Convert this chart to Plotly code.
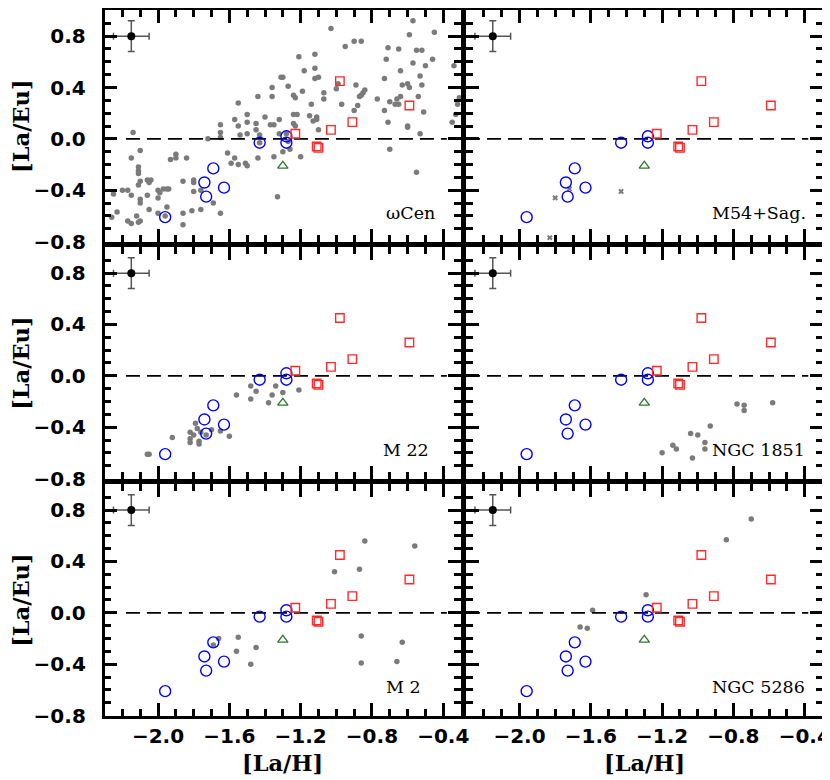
import plotly.graph_objects as go

# comparison stars, drawn in every panel
blue_x = [-1.96, -1.74, -1.73, -1.69, -1.63, -1.43, -1.28, -1.28]
blue_y = [-0.61, -0.34, -0.45, -0.23, -0.38, -0.03, 0.02, -0.03]
red_x = [-1.23, -1.11, -1.10, -1.03, -0.98, -0.91, -0.59]
red_y = [0.04, -0.06, -0.07, 0.07, 0.45, 0.13, 0.26]
green_x = [-1.30]
green_y = [-0.21]

# typical error bar
err_x, err_y = [-2.15], [0.80]
err_dx, err_dy = [0.10], [0.12]

# cluster stars (grey)
omega_x = [-1.31, -1.36, -1.36, -1.44, -1.55, -1.57, -1.50, -1.50, -1.40, -1.45, -1.32, -1.65, -1.55, -1.37, -1.35,
           -1.03, -0.57, -0.45, -0.59, -0.90, -0.86, -0.95, -0.71, -0.65, -0.55, -0.52, -1.12, -1.21, -0.72, -0.57,
           -0.46, -0.50, -0.34, -1.12, -1.18, -0.64, -1.30, -1.10, -1.12, -0.73, -0.53, -0.99, -1.27, -0.89, -0.63,
           -0.60, -0.59, -0.52, -1.19, -1.00, -0.84, -0.85, -0.86, -0.87, -1.24, -1.23, -1.07, -0.54, -0.77, -1.07,
           -0.66, -0.64, -0.70, -0.67, -0.65, -1.14, -0.97, -0.88, -0.32, -0.31, -0.90, -0.73, -0.51, -1.24, -1.22,
           -1.15, -1.11, -0.33, -1.24, -1.13, -1.11, -0.71, -0.60, -0.35,
           -1.10, -1.26, -1.20, -0.70, -0.60, -0.53, -0.55, -1.30, -1.28, -1.32, -1.27, -1.23,
           -2.14, -1.65, -1.50, -1.54, -1.72, -1.65, -1.45, -1.43, -2.10, -2.15, -1.90, -1.90, -1.93, -1.84, -1.61,
           -1.57, -1.59, -1.55, -1.51, -1.50, -1.44, -1.35, -2.11, -2.11, -2.11, -2.04, -2.06, -2.05, -2.10, -2.11,
           -1.86, -1.80, -1.80, -1.80, -2.20, -2.17, -2.25, -2.15, -2.06, -2.10, -2.10, -2.00, -1.99, -1.97, -1.95,
           -1.94, -2.00, -1.76, -1.69, -1.33, -1.95, -2.05, -2.23, -2.26, -2.12, -2.17, -2.15, -2.11, -2.10, -2.00,
           -1.96, -1.86, -1.81, -1.76, -1.65, -1.86, -1.43]
omega_y = [0.48, 0.40, 0.33, 0.33, 0.28, 0.15, 0.19, 0.13, 0.17, 0.12, 0.15, 0.11, 0.10, 0.11, 0.11,
           0.86, 0.92, 0.83, 0.81, 0.76, 0.76, 0.72, 0.71, 0.70, 0.69, 0.69, 0.66, 0.64, 0.62, 0.59,
           0.62, 0.57, 0.57, 0.55, 0.53, 0.53, 0.48, 0.48, 0.47, 0.47, 0.49, 0.43, 0.41, 0.42, 0.42,
           0.43, 0.40, 0.42, 0.37, 0.39, 0.38, 0.36, 0.34, 0.33, 0.34, 0.32, 0.36, 0.33, 0.31, 0.31,
           0.31, 0.33, 0.29, 0.27, 0.27, 0.27, 0.27, 0.26, 0.27, 0.32, 0.22, 0.22, 0.21, 0.19, 0.19,
           0.18, 0.17, 0.19, 0.12, 0.14, 0.15, 0.13, 0.10, 0.13,
           0.07, -0.08, -0.14, -0.08, 0.09, 0.04, -0.26, -0.10, 0.04, 0.04, -0.02, 0.10,
           0.05, 0.05, 0.04, 0.03, 0.00, 0.01, 0.07, 0.03, -0.09, -0.15, -0.12, -0.15, -0.16, -0.15, -0.11,
           -0.15, -0.19, -0.20, -0.19, -0.21, -0.15, -0.14, -0.22, -0.25, -0.27, -0.32, -0.32, -0.34, -0.33, -0.36,
           -0.33, -0.32, -0.34, -0.41, -0.40, -0.40, -0.43, -0.44, -0.44, -0.47, -0.50, -0.40, -0.42, -0.39, -0.39,
           -0.39, -0.46, -0.40, -0.50, -0.45, -0.53, -0.55, -0.57, -0.61, -0.60, -0.64, -0.66, -0.65, -0.64, -0.58,
           -0.60, -0.58, -0.56, -0.55, -0.58, -0.67, -0.03]

m54_x = [-1.80, -1.72, -1.43, -1.83]
m54_y = [-0.46, -0.39, -0.41, -0.77]

m22_x = [-2.06, -2.05, -1.92, -1.82, -1.82, -1.82, -1.79, -1.80, -1.78, -1.77, -1.77, -1.76, -1.73,
         -1.70, -1.65, -1.60, -1.56, -1.48, -1.48, -1.45, -1.38, -1.36, -1.34, -1.30, -1.21]
m22_y = [-0.61, -0.61, -0.48, -0.44, -0.49, -0.52, -0.37, -0.46, -0.41, -0.51, -0.53, -0.44, -0.46,
         -0.42, -0.43, -0.47, -0.15, -0.08, -0.18, -0.12, -0.21, -0.15, -0.08, -0.13, -0.11]

n1851_x = [-1.20, -1.14, -1.12, -1.04, -1.00, -1.03, -0.96, -0.96, -0.93, -0.78, -0.74, -0.74, -0.58]
n1851_y = [-0.60, -0.54, -0.57, -0.45, -0.46, -0.64, -0.52, -0.57, -0.39, -0.22, -0.23, -0.27, -0.21]

m2_x = [-1.66, -1.69, -1.55, -1.56, -1.45, -1.48, -1.01, -0.87, -0.84, -0.86, -0.86, -0.63, -0.66, -0.56]
m2_y = [-0.20, -0.25, -0.19, -0.30, -0.27, -0.40, 0.32, 0.34, 0.56, -0.18, -0.39, -0.23, -0.38, 0.52]

n5286_x = [-1.66, -1.62, -1.59, -1.29, -0.84, -0.70]
n5286_y = [-0.11, -0.12, 0.02, 0.14, 0.57, 0.73]

panels = [
    ("ωCen", omega_x, omega_y, "circle", -0.73),
    ("M54+Sag.", m54_x, m54_y, "x", -0.93),
    ("M 22", m22_x, m22_y, "circle", -0.75),
    ("NGC 1851", n1851_x, n1851_y, "circle", -0.93),
    ("M 2", m2_x, m2_y, "circle", -0.73),
    ("NGC 5286", n5286_x, n5286_y, "circle", -0.93),
]

W, H = 830, 780
col_px = [(97.5, 457.5), (462.5, 822.5)]
row_px = [(1.5, 236.5), (242.5, 477.5), (483.5, 718.5)]

tickfont = dict(family="DejaVu Sans", size=20, color="black", weight="bold")
titlefont = dict(family="DejaVu Serif", size=22.5, color="black", weight="bold")

fig = go.Figure()
layout = {}
for i, (name, gx, gy, sym, lab_x) in enumerate(panels):
    r, c = divmod(i, 2)
    n = "" if i == 0 else str(i + 1)
    k = str(i + 7)
    xr, yr = "x" + n, "y" + n
    xdom = [col_px[c][0] / W, col_px[c][1] / W]
    ydom = [1 - row_px[r][1] / H, 1 - row_px[r][0] / H]

    fig.add_trace(go.Scatter(x=gx, y=gy, mode="markers", xaxis=xr, yaxis=yr,
                             marker=dict(symbol=sym, size=5.5 if sym == "circle" else 5,
                                         color="#7b7b7b", line=dict(width=0))))
    x0 = -2.18 if c == 0 else -2.3
    fig.add_trace(go.Scatter(x=[x0, -0.38], y=[0, 0], mode="lines", xaxis=xr, yaxis=yr,
                             line=dict(color="black", width=1.8, dash="14px,7px")))
    fig.add_trace(go.Scatter(x=blue_x, y=blue_y, mode="markers", xaxis=xr, yaxis=yr,
                             marker=dict(symbol="circle-open", size=11, color="#0000ff",
                                         line=dict(width=1.4))))
    fig.add_trace(go.Scatter(x=red_x, y=red_y, mode="markers", xaxis=xr, yaxis=yr,
                             marker=dict(symbol="square-open", size=8.5, color="#ff2a2a",
                                         line=dict(width=1.4))))
    fig.add_trace(go.Scatter(x=green_x, y=green_y, mode="markers", xaxis=xr, yaxis=yr,
                             marker=dict(symbol="triangle-up-open", size=9, color="#2b7a2b",
                                         line=dict(width=1.3))))
    fig.add_trace(go.Scatter(x=err_x, y=err_y, mode="markers", xaxis=xr, yaxis=yr,
                             marker=dict(symbol="circle", size=8, color="black"),
                             error_x=dict(type="data", array=err_dx, color="#555555",
                                          thickness=1.5, width=3.5),
                             error_y=dict(type="data", array=err_dy, color="#555555",
                                          thickness=1.5, width=3.5)))
    # empty trace so the mirrored tick axes (top / right) get drawn
    fig.add_trace(go.Scatter(x=[None], y=[None], mode="markers", xaxis="x" + k, yaxis="y" + k,
                             hoverinfo="skip"))

    ticks = dict(ticks="inside", ticklen=13, tickwidth=2.5, tickcolor="black",
                 showgrid=False, zeroline=False, tickformat=".1f", tickfont=tickfont)
    xminor = dict(tick0=-2.0, dtick=0.1, ticks="inside", ticklen=7,
                  tickwidth=2.5, tickcolor="black", showgrid=False)
    yminor = dict(tick0=0, dtick=0.1, ticks="inside", ticklen=7,
                  tickwidth=2.5, tickcolor="black", showgrid=False)

    layout["xaxis" + n] = dict(ticks, domain=xdom, range=[-2.3, -0.3], anchor=yr,
                               tick0=-2.0, dtick=0.4, showticklabels=(r == 2),
                               showline=True, linewidth=2.5, linecolor="black", mirror=True,
                               ticklabelstandoff=1, minor=xminor)
    layout["yaxis" + n] = dict(ticks, domain=ydom, range=[-0.8, 1.0], anchor=xr,
                               tick0=0, dtick=0.4, showticklabels=(c == 0),
                               showline=True, linewidth=2.5, linecolor="black", mirror=True,
                               ticklabelstandoff=12, minor=yminor)
    # top and right tick marks
    layout["xaxis" + k] = dict(ticks, domain=xdom, range=[-2.3, -0.3], anchor="y" + k,
                               overlaying=xr, side="top", tick0=-2.0, dtick=0.4,
                               showticklabels=False, showline=False, minor=xminor)
    layout["yaxis" + k] = dict(ticks, domain=ydom, range=[-0.8, 1.0], anchor="x" + k,
                               overlaying=yr, side="right", tick0=0, dtick=0.4,
                               showticklabels=False, showline=False, minor=yminor)

    fig.add_annotation(x=lab_x, y=-0.58, xref=xr, yref=yr, text=name, showarrow=False,
                       xanchor="left", yanchor="middle",
                       font=dict(family="DejaVu Serif", size=17.5, color="black"))

    if c == 0:
        fig.add_annotation(x=13 / W, y=1 - (row_px[r][0] + row_px[r][1]) / 2 / H,
                           xref="paper", yref="paper", text="[La/Eu]", textangle=-90,
                           showarrow=False, xanchor="center", yanchor="middle", font=titlefont)
    if r == 2:
        fig.add_annotation(x=(col_px[c][0] + col_px[c][1]) / 2 / W, y=1 - 767 / H,
                           xref="paper", yref="paper", text="[La/H]",
                           showarrow=False, xanchor="center", yanchor="middle", font=titlefont)

fig.update_layout(width=W, height=H, margin=dict(l=0, r=0, t=0, b=0),
                  plot_bgcolor="white", paper_bgcolor="white", showlegend=False, **layout)

fig.write_html("out.html")
